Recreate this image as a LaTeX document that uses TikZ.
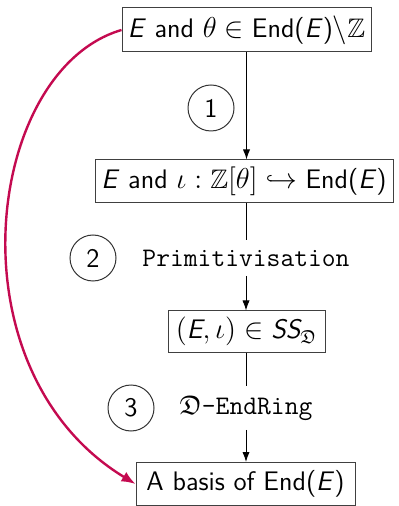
\documentclass[tikz,border=0pt]{standalone}
\usepackage{amssymb}
\usetikzlibrary{arrows.meta}
\definecolor{curvered}{RGB}{196,10,80}
\begin{document}
\begin{tikzpicture}[x=0.5pt,y=-0.5pt,
  font=\sffamily\fontsize{13.4}{16}\selectfont,
  box/.style={draw=black!75,line width=0.5pt,inner sep=0pt,align=center},
  stepnum/.style={draw=black!80,circle,line width=0.5pt,minimum size=23pt,inner sep=0pt},
  lab/.style={inner sep=0pt,minimum width=10pt,font=\ttfamily\fontsize{13.4}{16}\selectfont},
  arr/.style={-{Latex[length=5pt,width=3.6pt]},line width=0.5pt},
  plain/.style={line width=0.5pt}]
\useasboundingbox (0,0) rectangle (398,506);
\node[box,minimum width=124.5pt,minimum height=22pt] (b1) at (246.5,30) {\textit{E} and $\theta\in{}$End(\textit{E})$\backslash\mathbb{Z}$};
\node[box,minimum width=149pt,minimum height=21.5pt] (b2) at (244,181.5) {\textit{E} and $\iota:\mathbb{Z}[\theta]\hookrightarrow{}$End(\textit{E})};
\node[box,minimum width=78.5pt,minimum height=20.5pt] (b3) at (246.5,331.5) {$(\textit{E},\iota)\in\textit{SS}_{\mathfrak{D}}$};
\node[box,minimum width=109.5pt,minimum height=21.5pt] (b4) at (245.5,484) {A basis of End(\textit{E})};
\node[stepnum] (c1) at (211,108) {1};
\node[stepnum] (c2) at (93,258) {2};
\node[stepnum] (c3) at (131,408) {3};
\node[lab,minimum height=17.5pt] (l2) at (246,258) {Primitivisation};
\node[lab,minimum height=21.5pt] (l3) at (246,408) {$\mathfrak{D}$-EndRing};
\draw[arr] (b1.south) -- (b1.south |- b2.north);
\draw[plain] (b2.south -| l2.north) -- (l2.north);
\draw[arr] (l2.south) -- (l2.south |- b3.north);
\draw[plain] (b3.south -| l3.north) -- (l3.north);
\draw[arr] (l3.south) -- (l3.south |- b4.north);
\draw[curvered,line width=1.2pt,-{Latex[length=7pt,width=5.5pt]}] (b1.west) .. controls (-15,70) and (-52,370) .. (b4.west);
\end{tikzpicture}
\end{document}
